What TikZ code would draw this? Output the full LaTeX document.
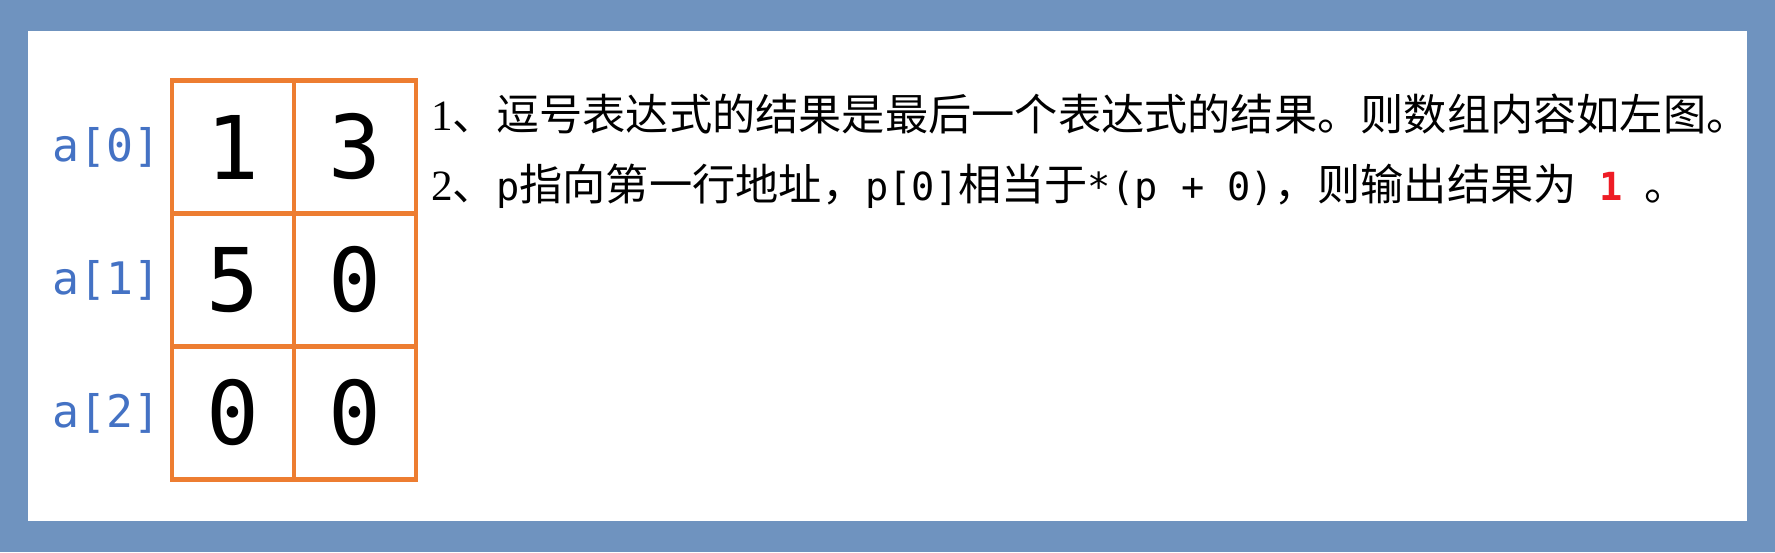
\documentclass[tikz,border=0pt]{standalone}
\usepackage{fontspec}
\setmainfont{Liberation Serif}
\setmonofont{DejaVu Sans Mono}
\newfontfamily\cjk{Noto Sans CJK SC}
\usetikzlibrary{positioning}
\definecolor{cframe}{HTML}{6F93BF}
\definecolor{cgrid}{HTML}{ED7D31}
\definecolor{clabel}{HTML}{4472C4}
\definecolor{chot}{HTML}{EE1C25}
\tikzset{
  cell/.style={draw=cgrid, line width=2.3pt, minimum width=2.44cm, minimum height=2.66cm,
               inner sep=0pt, outer sep=0pt, font=\ttfamily\fontsize{50}{50}\selectfont},
  idx/.style={text=clabel, inner sep=0pt, font=\ttfamily\fontsize{25.5}{25.5}\selectfont},
  note/.style={anchor=west, inner sep=0pt, font=\fontsize{24.6}{24.6}\selectfont},
}
\newcommand{\zh}[1]{{\cjk #1}}
\newcommand{\code}[1]{{\ttfamily\fontsize{22}{22}\selectfont #1}}

\begin{document}
\begin{tikzpicture}[x=0.02cm, y=-0.02cm]
  % frame
  \fill[cframe] (0,0) rectangle (1775,552);
  \fill[white] (28,31) rectangle (1747,521);
  % the array a[3][2]
  \foreach \r/\va/\vb in {0/1/3, 1/5/0, 2/0/0} {
    \node[cell] (c\r0) at (233,147+133*\r) {\va};
    \node[cell, right=0pt of c\r0] (c\r1) {\vb};
    \node[idx, left=6.5pt of c\r0] (a\r) {a[\r]};
  }
  % explanation
  \node[note] (note1) at (431,114) {1\zh{、逗号表达式的结果是最后一个表达式的结果。则数组内容如左图。}};
  \node[note] (note2) at (431,186) {2\zh{、}\code{p}\zh{指向第一行地址，}\code{p[0]}\zh{相当于}\code{*(p + 0)}\zh{，则输出结果为}\code{\hspace{0.6em}\bfseries\color{chot}1}\zh{\hspace{0.5em}。}};
\end{tikzpicture}
\end{document}
